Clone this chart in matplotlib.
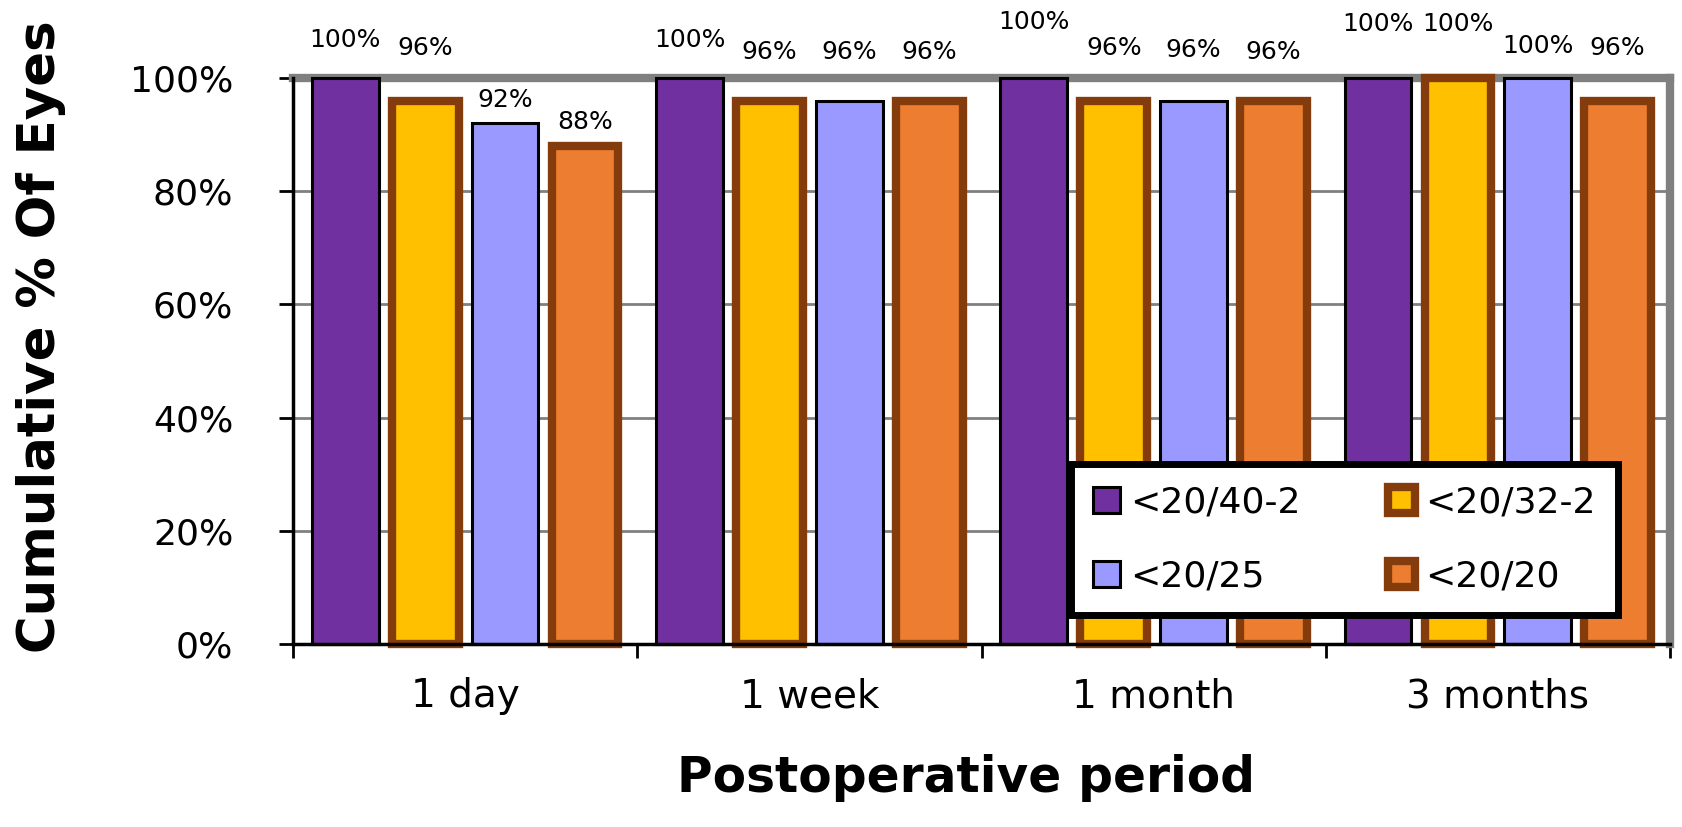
import numpy as np
import matplotlib.pyplot as plt

periods = ['1 day', '1 week', '1 month', '3 months']
series = ['<20/40-2', '<20/32-2', '<20/25', '<20/20']
values = [
    [100, 100, 100, 100],   # <20/40-2
    [96, 96, 96, 100],      # <20/32-2
    [92, 96, 96, 100],      # <20/25
    [88, 96, 96, 96],       # <20/20
]

colors = ['#7030A0', '#FFC000', '#9999FF', '#ED7D31']
edges = ['black', '#843C0C', 'black', '#843C0C']
edge_w = [2.2, 6.0, 2.2, 6.0]
# how far each value label sits above its bar (in % units), as in the original
label_lift = [
    [6.7, 6.7, 9.9, 9.5],
    [9.3, 8.6, 9.3, 9.5],
    [4.2, 8.6, 8.9, 5.7],
    [4.2, 8.6, 8.6, 9.3],
]

fig = plt.figure(figsize=(16.83, 8.27), dpi=100)
ax = fig.add_axes([293/1683, 1 - 644/827, 1377/1683, 566/827])

x = np.arange(len(periods))
step = 0.232
width = 0.194
handles = []
for i, name in enumerate(series):
    pos = x + (i - 1.5) * step
    b = ax.bar(pos, values[i], width, color=colors[i], edgecolor=edges[i],
               linewidth=edge_w[i], label=name, zorder=3, clip_on=False)
    handles.append(b)
    for p, v, lift in zip(pos, values[i], label_lift[i]):
        ax.text(p, v + lift, f'{v}%', ha='center', va='center', fontsize=18,
                clip_on=False, zorder=5)

ax.set_xlim(-0.5, 3.5)
ax.set_ylim(0, 100)
ax.set_yticks(np.arange(0, 101, 20))
ax.set_yticklabels([f'{t}%' for t in range(0, 101, 20)], fontsize=26)
ax.set_xticks(np.arange(-0.5, 3.6, 1))
ax.set_xticklabels([])
ax.set_xticks(x, minor=True)
ax.set_xticklabels(periods, minor=True, fontsize=28)
ax.tick_params(axis='x', which='minor', length=0, pad=24)
ax.tick_params(axis='x', which='major', direction='out', length=10, width=2)
ax.tick_params(axis='y', direction='out', length=10, width=2, pad=33)

ax.grid(axis='y', color='#808080', linewidth=2, zorder=0)
ax.set_axisbelow(True)
for side in ['top', 'right']:
    ax.spines[side].set_color('#808080')
    ax.spines[side].set_linewidth(6)
    ax.spines[side].set_zorder(1)
for side in ['left', 'bottom']:
    ax.spines[side].set_linewidth(2.5)
    ax.spines[side].set_zorder(4)

ax.set_ylabel('Cumulative % Of Eyes', fontsize=37, fontweight='bold', labelpad=46)
ax.set_xlabel('Postoperative period', fontsize=35, fontweight='bold', labelpad=28)
ax.yaxis.label.set_y(0.543)
ax.xaxis.label.set_x(0.489)

order = [0, 2, 1, 3]
leg = ax.legend([handles[k] for k in order], [series[k] for k in order], ncol=2,
                loc='lower left', bbox_to_anchor=(0.565, 0.051, 0.397, 0.267),
                mode='expand', borderaxespad=0, fontsize=26, frameon=True,
                fancybox=False, edgecolor='black', framealpha=1,
                handlelength=0.75, handleheight=0.75, handletextpad=0.3,
                borderpad=0.6, labelspacing=1.1, columnspacing=1.0)
leg.get_frame().set_linewidth(5)
leg.set_zorder(6)

fig.savefig('out.png', dpi=100)
